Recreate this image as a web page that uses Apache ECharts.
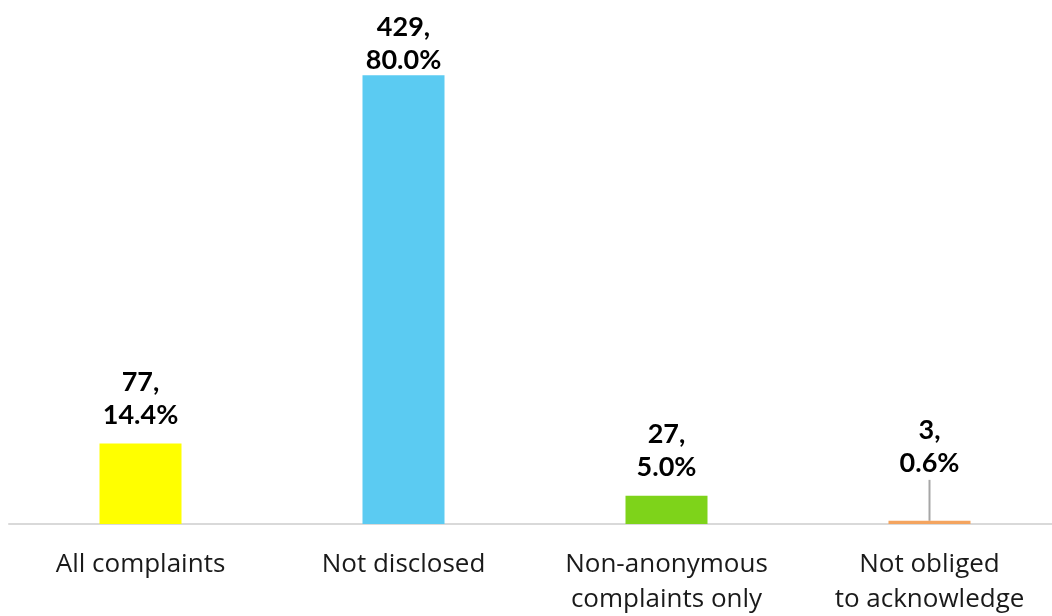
<!DOCTYPE html>
<html>
<head>
<meta charset="utf-8">
<script src="https://cdn.jsdelivr.net/npm/echarts@6/dist/echarts.min.js"></script>
<style>html,body{margin:0;padding:0;background:#fff}#c{width:1052px;height:616px}</style>
</head>
<body>
<div id="c"></div>
<script>
const categories = ['All complaints', 'Not disclosed', 'Non-anonymous\ncomplaints only', 'Not obliged\nto acknowledge'];
const counts = [77, 429, 27, 3];
const percents = ['14.4%', '80.0%', '5.0%', '0.6%'];
const colors = ['#FFFF00', '#5BCBF2', '#7ED31A', '#F4A45F'];

const chart = echarts.init(document.getElementById('c'));
chart.setOption({
  animation: false,
  grid: { left: 9, width: 1052, top: 1, bottom: 92, containLabel: false, outerBoundsMode: 'none' },
  xAxis: {
    type: 'category',
    data: categories,
    axisLine: { show: true, lineStyle: { color: '#d9d9d9', width: 2 } },
    axisTick: { show: false },
    axisLabel: { color: '#1a1a1a', fontSize: 26, fontFamily: 'Open Sans', lineHeight: 35, margin: 23, interval: 0 }
  },
  yAxis: { type: 'value', min: 0, max: 500, show: false, splitLine: { show: false } },
  series: [{
    type: 'bar',
    barWidth: 82,
    data: counts.map((v, i) => ({
      value: v,
      itemStyle: { color: colors[i] },
      labelLine: { show: i === 3, lineStyle: { color: '#a6a6a6', width: 2 } }
    })),
    label: {
      show: true,
      position: 'top',
      distance: 12,
      color: '#000',
      fontSize: 27,
      fontWeight: 'bold',
      fontFamily: 'Lato',
      lineHeight: 33,
      formatter: p => counts[p.dataIndex] + ',\n' + percents[p.dataIndex]
    },
    labelLayout: p => p.dataIndex === 1 ? { dy: 14 } : (p.dataIndex === 3 ? { dy: -29 } : {})
  }]
});
</script>
</body>
</html>
